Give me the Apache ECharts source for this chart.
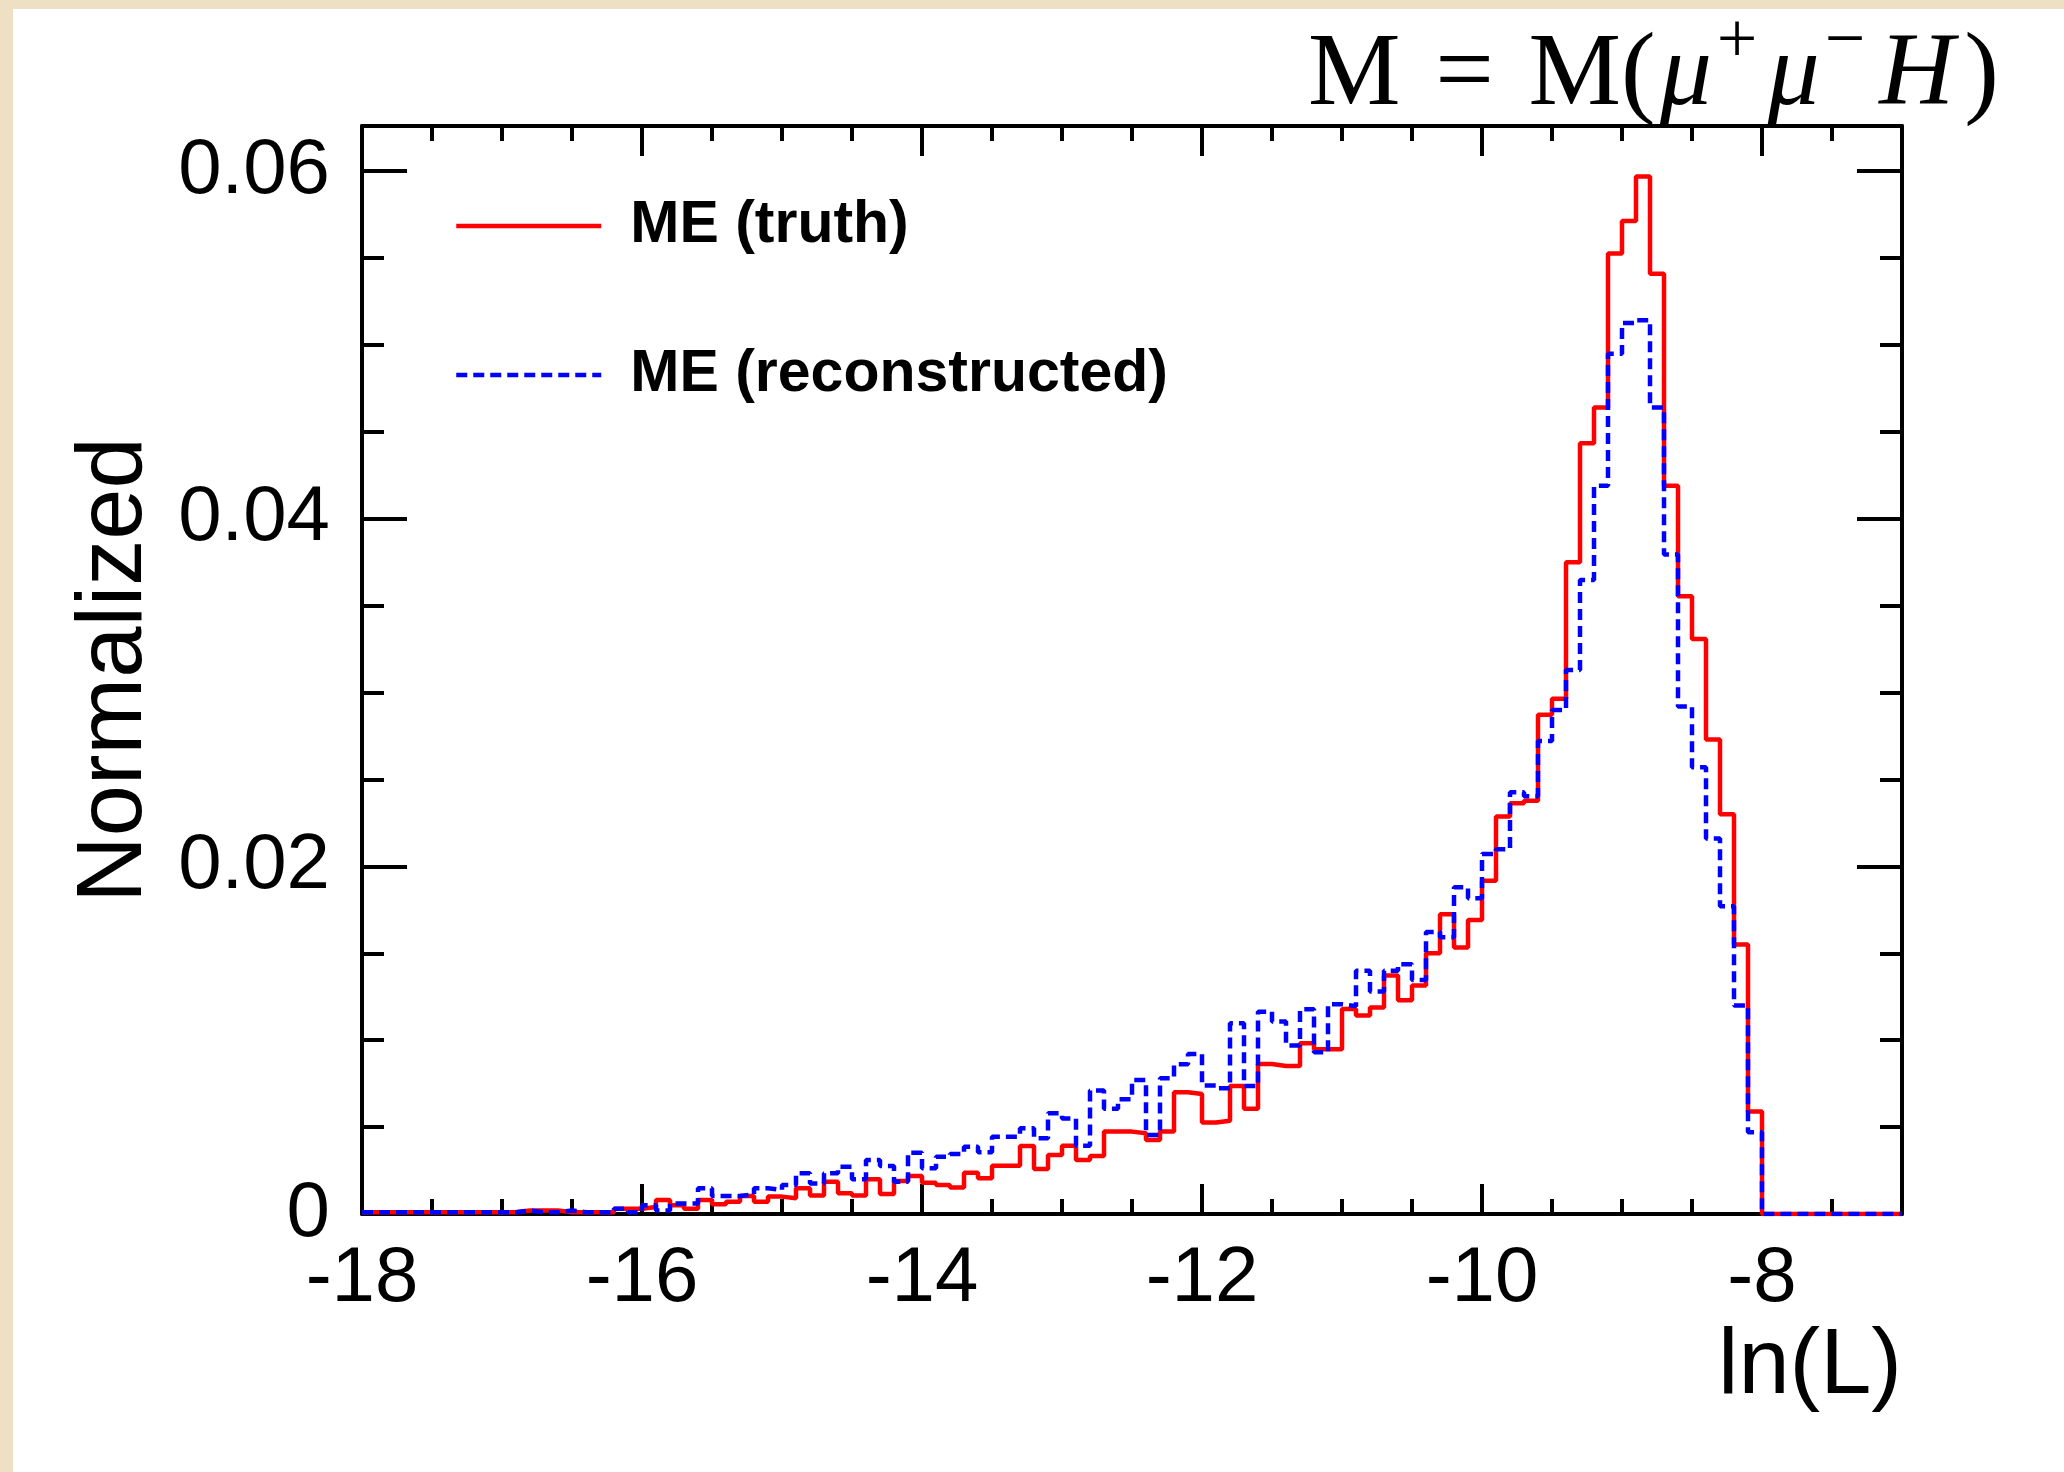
<!DOCTYPE html>
<html>
<head>
<meta charset="utf-8">
<script src="https://cdn.jsdelivr.net/npm/echarts@6/dist/echarts.min.js"></script>
<style>
  html, body { margin: 0; padding: 0; width: 2064px; height: 1472px; background: #EEE1C3; overflow: hidden; }
  #paper { position: absolute; left: 13px; top: 9px; right: 0; bottom: 0; background: #ffffff; }
  #chart { position: absolute; left: 0; top: 0; width: 2064px; height: 1472px; }
</style>
</head>
<body>
<div id="paper"></div>
<div id="chart"></div>
<script>
// ---- Data (histogram, 110 bins of width 0.1 from -18 to -7) ----
const BIN_MIN = -18;
const BIN_WIDTH = 0.1;
const seriesNames = ['ME (truth)', 'ME (reconstructed)'];

// ME (truth) bin contents, left to right
const truthValues = [
  0.0001, 0.0001, 0.0001, 0.0001, 0.0001, 0.0001, 0.0001, 0.0001, 0.0001, 0.0001,
  0.0001, 0.0002, 0.0002, 0.0002, 0.0001, 0.0001, 0.0001, 0.0001, 0.0003, 0.0003,
  0.0004, 0.0008, 0.0005, 0.0003, 0.0008, 0.00056, 0.00071, 0.00104, 0.00071, 0.0010,
  0.0009, 0.00148, 0.00106, 0.00186, 0.00119, 0.00106, 0.0020, 0.00115, 0.0019, 0.00219,
  0.0018, 0.00167, 0.00152, 0.00238, 0.00205, 0.00278, 0.00278, 0.00391, 0.00259, 0.0034,
  0.00393, 0.00311, 0.00334, 0.00474, 0.00474, 0.00464, 0.00426, 0.00474, 0.0070, 0.0069,
  0.00526, 0.00537, 0.00737, 0.00606, 0.00863, 0.00852, 0.00852, 0.00982, 0.00948, 0.00948,
  0.0118, 0.01142, 0.01188, 0.01372, 0.0123, 0.01315, 0.0150, 0.01725, 0.01533, 0.01692,
  0.01917, 0.02287, 0.02364, 0.02377, 0.02872, 0.02964, 0.0375, 0.04434, 0.0464, 0.05527,
  0.05713, 0.0597, 0.0541, 0.0419, 0.03554, 0.03308, 0.0273, 0.0230, 0.0155, 0.0059,
  0, 0, 0, 0, 0, 0, 0, 0, 0, 0
];

// ME (reconstructed) bin contents, left to right
const recoValues = [
  0.0001, 0.0001, 0.0001, 0.0001, 0.0001, 0.0001, 0.0001, 0.0001, 0.0001, 0.0001,
  0.0001, 0.0002, 0.0001, 0.0001, 0.0002, 0.0001, 0.0001, 0.0001, 0.0003, 0.0001,
  0.0005, 0.0002, 0.0006, 0.0006, 0.00148, 0.00104, 0.00104, 0.00113, 0.00148, 0.00138,
  0.00167, 0.00234, 0.00175, 0.00234, 0.00272, 0.0020, 0.0031, 0.00276, 0.00186, 0.00353,
  0.00263, 0.0033, 0.00345, 0.00387, 0.00355, 0.00445, 0.00445, 0.00493, 0.00436, 0.0058,
  0.0055, 0.00393, 0.0071, 0.00606, 0.0066, 0.00771, 0.00455, 0.00781, 0.00861, 0.00921,
  0.00739, 0.00723, 0.01097, 0.00737, 0.01164, 0.01107, 0.0097, 0.01178, 0.0093, 0.01207,
  0.01196, 0.0140, 0.0128, 0.0140, 0.01437, 0.01347, 0.01623, 0.01592, 0.0188, 0.01817,
  0.02072, 0.02099, 0.02427, 0.02404, 0.02722, 0.0290, 0.0313, 0.03648, 0.0419, 0.0495,
  0.05127, 0.05143, 0.0464, 0.03795, 0.0292, 0.0257, 0.0216, 0.0177, 0.0120, 0.0047,
  0, 0, 0, 0, 0, 0, 0, 0, 0, 0
];

// Axis settings
const X_MIN = -18, X_MAX = -7, X_STEP = 2;
const Y_MIN = 0, Y_MAX = 0.0626, Y_STEP = 0.02;
const xAxisTitle = 'ln(L)';
const yAxisTitle = 'Normalized';

// ---- Build step data from bin edges ----
function toStep(values) {
  const pts = values.map((v, i) => [Math.round((BIN_MIN + i * BIN_WIDTH) * 10) / 10, v]);
  const n = values.length;
  pts.push([Math.round((BIN_MIN + n * BIN_WIDTH) * 10) / 10, values[n - 1]]);
  return pts;
}

const FONT = '"Liberation Sans", Arial, Helvetica, sans-serif';
const SERIF = '"Liberation Serif", "DejaVu Serif", serif';

const tickCommon = {
  axisLine: { show: true, onZero: false, lineStyle: { color: '#000', width: 4 } },
  splitLine: { show: false },
  minorSplitLine: { show: false }
};

const chart = echarts.init(document.getElementById('chart'), null, { renderer: 'canvas' });

chart.setOption({
  animation: false,
  backgroundColor: 'transparent',
  title: {
    right: 60,
    top: 2,
    text: '{n|M\u2004=\u2004M(}{i|μ}{s|+}{i|μ}{s|−}{h|H}{n|)}',
    textStyle: {
      fontWeight: 'normal',
      rich: {
        n: { fontFamily: SERIF, fontSize: 104, fontWeight: 'normal', color: '#000', lineHeight: 122, verticalAlign: 'bottom' },
        i: { fontFamily: SERIF, fontSize: 104, fontWeight: 'normal', fontStyle: 'italic', color: '#000', lineHeight: 122, verticalAlign: 'bottom', padding: [0, 3, 0, 4] },
        h: { fontFamily: SERIF, fontSize: 104, fontWeight: 'normal', fontStyle: 'italic', color: '#000', lineHeight: 122, verticalAlign: 'bottom', padding: [0, 10, 0, 8] },
        s: { fontFamily: SERIF, fontSize: 72, fontWeight: 'normal', color: '#000', lineHeight: 72, verticalAlign: 'top', padding: [0, 6, 0, 2] }
      }
    }
  },
  legend: {
    data: seriesNames,
    orient: 'vertical',
    left: 449,
    top: 186,
    itemWidth: 145,
    itemHeight: 20,
    itemGap: 79,
    itemStyle: { opacity: 0 },
    lineStyle: { width: 4.5 },
    textStyle: { fontFamily: FONT, fontWeight: 'bold', fontSize: 59, color: '#000', lineHeight: 70, padding: [0, 0, 0, 24] }
  },
  grid: { left: 362, right: 162, top: 126, bottom: 258, containLabel: false },
  xAxis: [
    Object.assign({
      type: 'value', position: 'bottom', min: X_MIN, max: X_MAX, interval: X_STEP,
      name: xAxisTitle, nameLocation: 'end', nameGap: 0,
      nameTextStyle: { fontFamily: FONT, fontSize: 92, color: '#000', align: 'right', verticalAlign: 'top', padding: [108, 0, 0, 0] },
      axisTick: { show: true, inside: true, length: 30, lineStyle: { color: '#000', width: 4 } },
      minorTick: { show: true, splitNumber: 4, length: 15, lineStyle: { color: '#000', width: 4 } },
      axisLabel: { show: true, fontFamily: FONT, fontSize: 78, color: '#000', margin: 26, showMaxLabel: false }
    }, tickCommon),
    Object.assign({
      type: 'value', position: 'top', min: X_MIN, max: X_MAX, interval: X_STEP,
      axisTick: { show: true, inside: true, length: 30, lineStyle: { color: '#000', width: 4 } },
      minorTick: { show: true, splitNumber: 4, length: 15, lineStyle: { color: '#000', width: 4 } },
      axisLabel: { show: false }
    }, tickCommon)
  ],
  yAxis: [
    Object.assign({
      type: 'value', position: 'left', min: Y_MIN, max: Y_MAX, interval: Y_STEP,
      name: yAxisTitle, nameLocation: 'middle', nameRotate: 90, nameGap: 200,
      nameTextStyle: { fontFamily: FONT, fontSize: 92, color: '#000' },
      axisTick: { show: true, inside: true, length: 45, lineStyle: { color: '#000', width: 4 } },
      minorTick: { show: true, splitNumber: 4, length: 22, lineStyle: { color: '#000', width: 4 } },
      axisLabel: { show: true, fontFamily: FONT, fontSize: 78, color: '#000', margin: 32, showMaxLabel: false }
    }, tickCommon),
    Object.assign({
      type: 'value', position: 'right', min: Y_MIN, max: Y_MAX, interval: Y_STEP,
      axisTick: { show: true, inside: true, length: 45, lineStyle: { color: '#000', width: 4 } },
      minorTick: { show: true, splitNumber: 4, length: 22, lineStyle: { color: '#000', width: 4 } },
      axisLabel: { show: false }
    }, tickCommon)
  ],
  series: [
    {
      name: seriesNames[0], type: 'line', step: 'end', symbol: 'none', showSymbol: false,
      xAxisIndex: 0, yAxisIndex: 0, sampling: null,
      lineStyle: { color: '#FF0000', width: 4.5 },
      itemStyle: { color: '#FF0000' },
      data: toStep(truthValues), z: 3
    },
    {
      name: seriesNames[1], type: 'line', step: 'end', symbol: 'none', showSymbol: false,
      xAxisIndex: 0, yAxisIndex: 0, sampling: null,
      lineStyle: { color: '#0000FF', width: 4.5, type: [11, 6] },
      itemStyle: { color: '#0000FF' },
      data: toStep(recoValues), z: 4
    }
  ]
});
</script>
</body>
</html>
